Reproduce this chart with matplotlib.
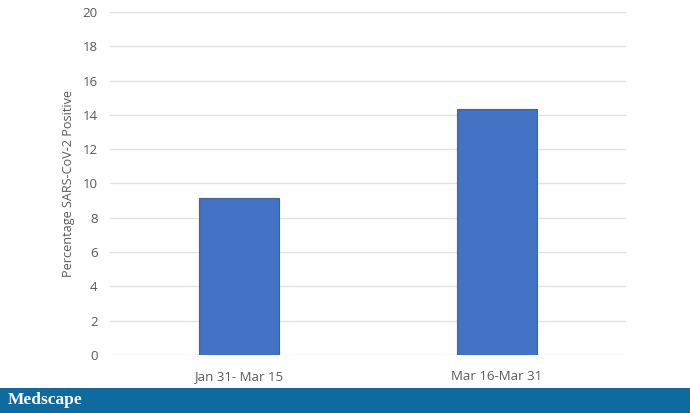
import numpy as np
import matplotlib.pyplot as plt
from matplotlib.patches import Rectangle

categories = ['Jan 31- Mar 15', 'Mar 16-Mar 31']
values = [9.15, 14.35]
yticks = [0, 2, 4, 6, 8, 10, 12, 14, 16, 18, 20]

plt.rcParams['font.family'] = ['Open Sans', 'DejaVu Sans']

fig = plt.figure(figsize=(6.9, 4.13), dpi=100)
ax = fig.add_axes([110 / 690, (413 - 355) / 413, 516 / 690, 343 / 413])

x = np.arange(len(categories))
ax.bar(x, values, width=0.31, color='#4472c4', edgecolor='#3a62a8', linewidth=0.8, zorder=3)

ax.set_xlim(-0.5, 1.5)
ax.set_ylim(0, 20)
ax.set_yticks(yticks)
ax.set_xticks(x)
ax.set_xticklabels(categories)
ax.yaxis.grid(True, color='#e3e3e3', linewidth=1)
ax.set_axisbelow(True)
for s in ax.spines.values():
    s.set_visible(False)
ax.tick_params(length=0, colors='#595959', labelsize=9.5)
ax.tick_params(axis='y', pad=9)
ax.tick_params(axis='x', pad=11)
ax.set_ylabel('Percentage SARS-CoV-2 Positive', color='#595959', fontsize=9.1, labelpad=5)

# banner
fig.patches.append(Rectangle((0, 0), 1, 25.5 / 413, transform=fig.transFigure,
                             facecolor='#0f6aa0', edgecolor='none', zorder=0))
fig.text(8 / 690, 12.5 / 413, 'Medscape', color='white', fontsize=12.5,
         family='Liberation Serif', weight='semibold', va='center', ha='left')

fig.savefig('out.png', dpi=100)
